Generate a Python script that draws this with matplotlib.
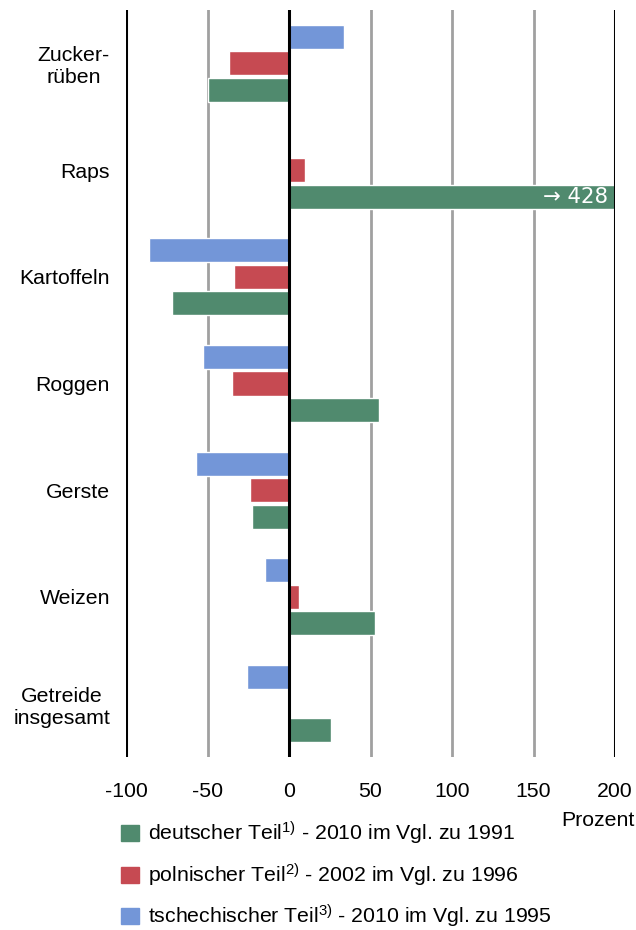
import numpy as np
import matplotlib.pyplot as plt
from matplotlib.patches import Patch

plt.rcParams['font.family'] = ['Liberation Sans', 'DejaVu Sans']
plt.rcParams['mathtext.fontset'] = 'custom'
plt.rcParams['mathtext.rm'] = 'Liberation Sans'
plt.rcParams['mathtext.it'] = 'Liberation Sans'

categories = ['Zucker-\nrüben', 'Raps', 'Kartoffeln', 'Roggen', 'Gerste', 'Weizen',
              'Getreide\ninsgesamt']
# Veränderung in Prozent
tschechisch = [34, 0, -86, -53, -57, -15, -26]
polnisch = [-37, 10, -34, -35, -24, 6, 0]
deutsch = [-50, 428, -72, 55, -23, 53, 26]

ticks = [-100, -50, 0, 50, 100, 150, 200]

c_de = '#508a6e'
c_pl = '#c64a52'
c_cz = '#7396d8'

fs = 15.3

fig = plt.figure(figsize=(6.36, 9.30), dpi=100)
ax = fig.add_axes([126 / 636, 1 - 757 / 930, (615 - 126) / 636, (757 - 10) / 930])

y = np.arange(len(categories))
h = 0.225
off = 0.248

for x in ticks:
    if x in (-100, 0, 200):
        ax.axvline(x, color='black', lw=2.2, zorder=3)
    else:
        ax.axvline(x, color='#a0a0a0', lw=2, zorder=0)

for vals, d, col in [(tschechisch, -off, c_cz), (polnisch, 0, c_pl), (deutsch, off, c_de)]:
    v = np.array(vals, dtype=float)
    m = v != 0
    ax.barh(y[m] + d, v[m], height=h, color=col, edgecolor='white', lw=1, zorder=2)

# Raps-Balken ist abgeschnitten, Wert als Text
ax.text(196, 1 + off, '→ 428', color='white', ha='right', va='center', fontsize=fs,
        family=['DejaVu Sans'], zorder=4)

ax.set_xlim(-100, 200)
ax.set_ylim(len(categories) - 0.5, -0.5)
ax.set_xticks(ticks)
ax.set_xticklabels([str(t) for t in ticks], fontsize=fs)
ax.set_yticks(y)
ax.set_yticklabels(categories, fontsize=fs, multialignment='center', linespacing=1.2)
ax.tick_params(axis='both', length=0)
ax.tick_params(axis='x', pad=18)
ax.tick_params(axis='y', pad=11.5)
for s in ax.spines.values():
    s.set_visible(False)

fig.text(635 / 636, 1 - 820 / 930, 'Prozent', ha='right', va='center', fontsize=fs)

handles = [Patch(color=c_de), Patch(color=c_pl), Patch(color=c_cz)]
labels = ['deutscher Teil$^{1)}$ - 2010 im Vgl. zu 1991',
          'polnischer Teil$^{2)}$ - 2002 im Vgl. zu 1996',
          'tschechischer Teil$^{3)}$ - 2010 im Vgl. zu 1995']
fig.legend(handles, labels, loc='upper left', bbox_to_anchor=(121 / 636, 1 - 820 / 930),
           frameon=False, fontsize=fs, handlelength=0.84, handleheight=0.8,
           handletextpad=0.42, labelspacing=0.67, borderaxespad=0, borderpad=0)

fig.savefig('out.png', dpi=100)
